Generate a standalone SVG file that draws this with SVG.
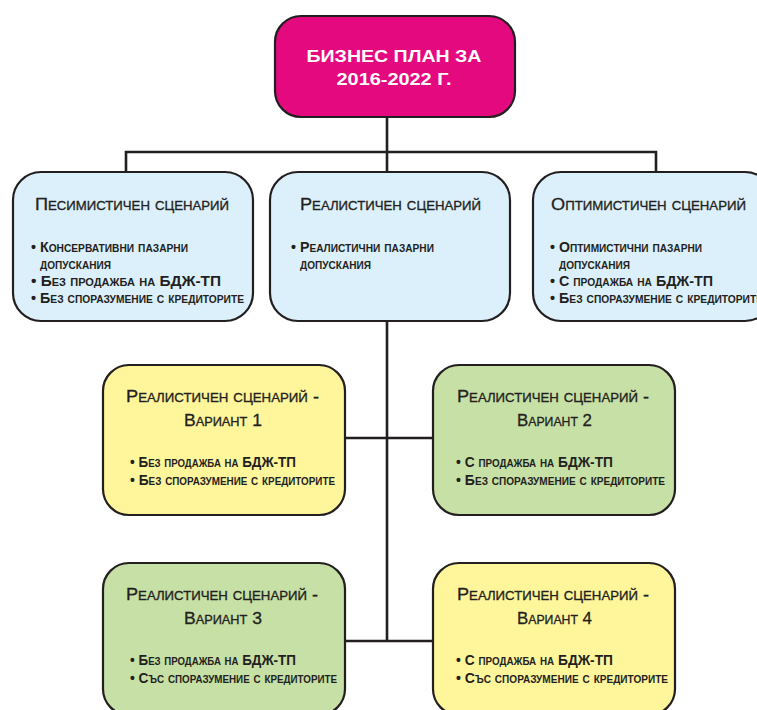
<svg xmlns="http://www.w3.org/2000/svg" width="757" height="710" viewBox="0 0 757 710">
<style>
.box{stroke:#231f20;stroke-width:2.2}
.pink{fill:#e5097f}
.blue{fill:#dcf0fb}
.yellow{fill:#fff69b}
.green{fill:#c6e0a5}
.top{font-family:"Liberation Sans",Arial,sans-serif;font-weight:bold;font-size:17px;fill:#ffffff}
.title{font-family:"Liberation Sans",Arial,sans-serif;font-size:16.5px;font-variant:small-caps;fill:#231f20;stroke:#231f20;stroke-width:0.3}
.bul{font-family:"Liberation Sans",Arial,sans-serif;font-weight:bold;font-size:14px;font-variant:small-caps;fill:#231f20}
.conn{fill:none;stroke:#231f20;stroke-width:2.6}
</style>
<rect width="757" height="710" fill="#ffffff"/>
<g id="connectors" class="conn">
<path d="M387 117 V152 M126 172 V152 H656 V172 M387 152 V172"/>
<path d="M387 321 V641 M345 438 H433 M345 641 H433"/>
</g>
<g id="root">
<rect class="box pink" x="275" y="16" width="240" height="101" rx="26"/>
<text class="top" x="394" y="62" text-anchor="middle" textLength="175" lengthAdjust="spacingAndGlyphs">БИЗНЕС ПЛАН ЗА</text>
<text class="top" x="394" y="85" text-anchor="middle" textLength="115" lengthAdjust="spacingAndGlyphs">2016-2022 Г.</text>
</g>
<g id="pessimistic">
<rect class="box blue" x="13" y="172" width="240" height="149" rx="28"/>
<text class="title" x="35" y="210" textLength="194" lengthAdjust="spacingAndGlyphs">Песимистичен сценарий</text>
<text class="bul" x="31" y="252" textLength="157" lengthAdjust="spacingAndGlyphs">• Консервативни пазарни</text>
<text class="bul" x="40" y="269" textLength="71" lengthAdjust="spacingAndGlyphs">допускания</text>
<text class="bul" x="31" y="286" textLength="190" lengthAdjust="spacingAndGlyphs">• Без продажба на БДЖ-ТП</text>
<text class="bul" x="31" y="303" textLength="213" lengthAdjust="spacingAndGlyphs">• Без споразумение с кредиторите</text>
</g>
<g id="realistic">
<rect class="box blue" x="270" y="172" width="240" height="149" rx="28"/>
<text class="title" x="300" y="210" textLength="181" lengthAdjust="spacingAndGlyphs">Реалистичен сценарий</text>
<text class="bul" x="291" y="252" textLength="143" lengthAdjust="spacingAndGlyphs">• Реалистични пазарни</text>
<text class="bul" x="300" y="269" textLength="71" lengthAdjust="spacingAndGlyphs">допускания</text>
</g>
<g id="optimistic">
<rect class="box blue" x="533" y="172" width="240" height="149" rx="28"/>
<text class="title" x="551" y="210" textLength="195" lengthAdjust="spacingAndGlyphs">Оптимистичен сценарий</text>
<text class="bul" x="550" y="252" textLength="152" lengthAdjust="spacingAndGlyphs">• Оптимистични пазарни</text>
<text class="bul" x="559" y="269" textLength="71" lengthAdjust="spacingAndGlyphs">допускания</text>
<text class="bul" x="550" y="286" textLength="163" lengthAdjust="spacingAndGlyphs">• С продажба на БДЖ-ТП</text>
<text class="bul" x="550" y="303" textLength="213" lengthAdjust="spacingAndGlyphs">• Без споразумение с кредиторите</text>
</g>
<g id="variant1">
<rect class="box yellow" x="103" y="365" width="242" height="150" rx="26"/>
<text class="title" x="126" y="402" textLength="193" lengthAdjust="spacingAndGlyphs">Реалистичен сценарий -</text>
<text class="title" x="184" y="426" textLength="78" lengthAdjust="spacingAndGlyphs">Вариант 1</text>
<text class="bul" x="130" y="467" textLength="166" lengthAdjust="spacingAndGlyphs">• Без продажба на БДЖ-ТП</text>
<text class="bul" x="130" y="485" textLength="205" lengthAdjust="spacingAndGlyphs">• Без споразумение с кредиторите</text>
</g>
<g id="variant2">
<rect class="box green" x="433" y="365" width="242" height="150" rx="26"/>
<text class="title" x="457" y="402" textLength="192" lengthAdjust="spacingAndGlyphs">Реалистичен сценарий -</text>
<text class="title" x="517" y="426" textLength="75" lengthAdjust="spacingAndGlyphs">Вариант 2</text>
<text class="bul" x="456" y="467" textLength="157" lengthAdjust="spacingAndGlyphs">• С продажба на БДЖ-ТП</text>
<text class="bul" x="456" y="485" textLength="209" lengthAdjust="spacingAndGlyphs">• Без споразумение с кредиторите</text>
</g>
<g id="variant3">
<rect class="box green" x="103" y="563" width="242" height="152" rx="26"/>
<text class="title" x="126" y="600" textLength="192" lengthAdjust="spacingAndGlyphs">Реалистичен сценарий -</text>
<text class="title" x="184" y="624" textLength="78" lengthAdjust="spacingAndGlyphs">Вариант 3</text>
<text class="bul" x="130" y="665" textLength="166" lengthAdjust="spacingAndGlyphs">• Без продажба на БДЖ-ТП</text>
<text class="bul" x="130" y="683" textLength="207" lengthAdjust="spacingAndGlyphs">• Със споразумение с кредиторите</text>
</g>
<g id="variant4">
<rect class="box yellow" x="433" y="563" width="242" height="152" rx="26"/>
<text class="title" x="457" y="600" textLength="192" lengthAdjust="spacingAndGlyphs">Реалистичен сценарий -</text>
<text class="title" x="517" y="624" textLength="75" lengthAdjust="spacingAndGlyphs">Вариант 4</text>
<text class="bul" x="456" y="665" textLength="157" lengthAdjust="spacingAndGlyphs">• С продажба на БДЖ-ТП</text>
<text class="bul" x="456" y="683" textLength="212" lengthAdjust="spacingAndGlyphs">• Със споразумение с кредиторите</text>
</g>
</svg>
